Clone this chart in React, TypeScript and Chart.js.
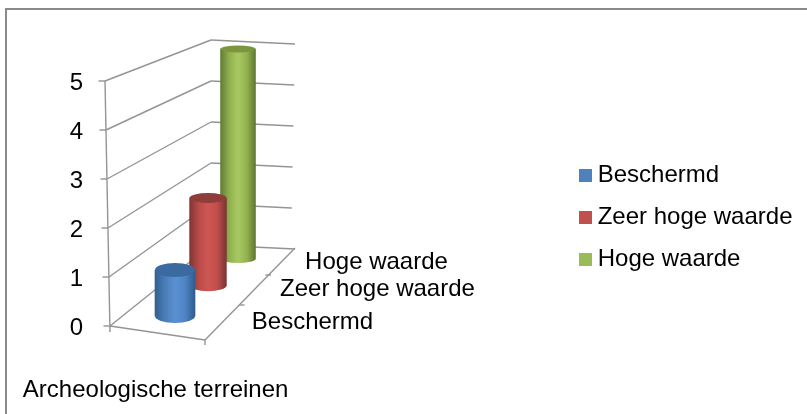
import React, { useEffect, useRef } from "react";
import { Chart, registerables } from "chart.js";

Chart.register(...registerables);

const categories = ["Archeologische terreinen"];
const seriesNames = ["Beschermd", "Zeer hoge waarde", "Hoge waarde"];
const beschermdValues = [1];
const zeerHogeValues = [2];
const hogeValues = [5];
const yTicks = [0, 1, 2, 3, 4, 5];

const FONT = "'Liberation Sans', Arial, sans-serif";
const GRID = "#949494";
const BAR_W = 40;

// oblique projection of each series row, and cylinder styling
const rows = [
  { cx: 175, base: 316, k: 0.94, s: 1, ryTop: 7, ryBottom: 7, labelX: 312.5, labelY: 322,
    flat: "#4f81bd", top: "#3a6a9f", stops: ["#33608f", "#4a7db8", "#5a90d2", "#4f84c4", "#2f5c8e"] },
  { cx: 208, base: 285.7, k: 0.895, s: 0.92, ryTop: 5, ryBottom: 5.5, labelX: 377.5, labelY: 289,
    flat: "#c0504d", top: "#8e3d3b", stops: ["#7f3634", "#b94b48", "#ce5653", "#c04f4c", "#7c3432"] },
  { cx: 238, base: 259, k: 0.857, s: 0.875, ryTop: 3.5, ryBottom: 4, labelX: 376.5, labelY: 262,
    flat: "#9bbb59", top: "#7b963f", stops: ["#637c34", "#90b04e", "#a8c962", "#93b250", "#5f7831"] },
];

const swatch = (color: string) => {
  const c = document.createElement("canvas");
  c.width = 13;
  c.height = 13;
  const g = c.getContext("2d")!;
  g.fillStyle = color;
  g.fillRect(0, 0, 13, 13);
  return c;
};

const barGradient = (chart: any, i: number) => {
  const area = chart.chartArea;
  if (!area) return rows[i].flat;
  const mid = (area.left + area.right) / 2;
  const g = chart.ctx.createLinearGradient(mid - BAR_W / 2, 0, mid + BAR_W / 2, 0);
  rows[i].stops.forEach((c, n) => g.addColorStop(n / (rows[i].stops.length - 1), c));
  return g;
};

const line = (ctx: CanvasRenderingContext2D, a: number, b: number, c: number, d: number) => {
  ctx.beginPath();
  ctx.moveTo(a, b);
  ctx.lineTo(c, d);
  ctx.stroke();
};

const scene = {
  id: "scene",
  afterLayout(chart: any) {
    const l = chart.legend;
    l.top += 13.5;
    l.bottom += 13.5;
  },
  beforeDraw(chart: any) {
    const ctx = chart.ctx;
    ctx.save();
    ctx.strokeStyle = "#8a8a8a";
    ctx.lineWidth = 2;
    ctx.beginPath();
    ctx.moveTo(807, 9);
    ctx.lineTo(6, 9);
    ctx.lineTo(6, 414);
    ctx.stroke();
    ctx.restore();
  },
  beforeDatasetsDraw(chart: any) {
    const ctx = chart.ctx;
    const y = chart.scales.y;
    const zero = y.getPixelForValue(0);
    const depthRatio = 41 / 49;
    ctx.save();
    ctx.strokeStyle = GRID;
    ctx.lineWidth = 1.4;
    yTicks.forEach((v) => {
      const fy = y.getPixelForValue(v);
      const fx = 110 - v;
      const by = 245 + (fy - zero) * depthRatio;
      const ry = 249 + (fy - zero) * depthRatio;
      line(ctx, fx - 6.5, fy, fx, fy);
      line(ctx, fx, fy, 211, by);
      line(ctx, 211, by, 291 + 0.8 * v + (v === 0 ? 4 : 0), ry);
    });
    line(ctx, 105, y.getPixelForValue(5), 110, zero + 6);
    line(ctx, 110, zero, 205, 340);
    line(ctx, 205, 340, 295, 248);
    line(ctx, 205, 340, 205, 345);
    line(ctx, 239, 305, 244.5, 305);
    line(ctx, 265.5, 275, 271, 275);
    ctx.restore();

    ctx.save();
    ctx.fillStyle = "#000";
    ctx.font = `24px ${FONT}`;
    ctx.textAlign = "center";
    ctx.textBaseline = "middle";
    seriesNames.forEach((name, i) => ctx.fillText(name, rows[i].labelX, rows[i].labelY));
    ctx.restore();
  },
  beforeDatasetDraw(chart: any, args: any) {
    const ctx = chart.ctx;
    const r = rows[args.index];
    const el = args.meta.data[0];
    ctx.save();
    ctx.translate(r.cx - el.x * r.s, r.base - el.base * r.k);
    ctx.scale(r.s, r.k);
  },
  afterDatasetDraw(chart: any, args: any) {
    const ctx = chart.ctx;
    const r = rows[args.index];
    const el = args.meta.data[0];
    ctx.fillStyle = barGradient(chart, args.index);
    ctx.beginPath();
    ctx.ellipse(el.x, el.base, BAR_W / 2, r.ryBottom / r.k, 0, 0, Math.PI);
    ctx.fill();
    ctx.fillStyle = r.top;
    ctx.beginPath();
    ctx.ellipse(el.x, el.y, BAR_W / 2, r.ryTop / r.k, 0, 0, Math.PI * 2);
    ctx.fill();
    ctx.restore();
  },
};

export default function App() {
  const ref = useRef<HTMLCanvasElement>(null);
  useEffect(() => {
    Chart.defaults.font.family = FONT;
    const values = [beschermdValues, zeerHogeValues, hogeValues];
    const chart = new Chart(ref.current!, {
      type: "bar",
      data: {
        labels: categories,
        datasets: seriesNames.map((label, i) => ({
          label,
          data: values[i],
          grouped: false,
          clip: false,
          barThickness: BAR_W,
          borderWidth: 0,
          backgroundColor: (c: any) => barGradient(c.chart, i),
        })),
      },
      options: {
        animation: false,
        responsive: false,
        layout: { padding: { top: 81, left: 0, bottom: 10, right: 4.5 } },
        plugins: {
          title: { display: false },
          tooltip: { enabled: false },
          legend: {
            position: "right",
            fullSize: false,
            maxWidth: 240,
            labels: {
              color: "#000",
              font: { size: 24, family: FONT },
              padding: 18,
              usePointStyle: true,
              pointStyleWidth: 1,
              generateLabels: () =>
                seriesNames.map((text, i) => ({
                  text,
                  fontColor: "#000",
                  pointStyle: swatch(rows[i].flat),
                  fillStyle: rows[i].flat,
                  lineWidth: 0,
                  datasetIndex: i,
                })),
            },
          },
        },
        scales: {
          x: {
            grid: { display: false },
            border: { display: false },
            afterFit: (s: any) => {
              s.height = 78;
            },
            ticks: {
              color: "#000",
              font: { size: 24 },
              padding: 42,
              labelOffset: -182.75,
              autoSkip: false,
              maxRotation: 0,
            },
          },
          y: {
            min: 0,
            max: 5,
            grid: { display: false },
            border: { display: false },
            afterFit: (s: any) => {
              s.width = 110;
            },
            ticks: { color: "#000", font: { size: 24 }, padding: 19, stepSize: 1, labelOffset: 2 },
          },
        },
      },
      plugins: [scene],
    } as any);
    return () => chart.destroy();
  }, []);
  return (
    <div style={{ position: "absolute", left: 0, top: 0, width: 807, height: 414, background: "#fff" }}>
      <canvas ref={ref} width={807} height={414} style={{ display: "block" }} />
    </div>
  );
}
